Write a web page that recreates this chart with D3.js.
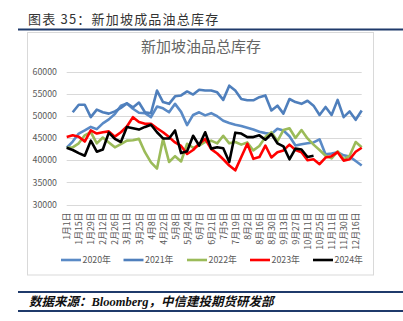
<!DOCTYPE html>
<html><head><meta charset="utf-8">
<script src="https://cdn.jsdelivr.net/npm/d3@7"></script>
<style>body{margin:0;background:#fff;} svg{display:block;}</style>
</head><body><svg id="c" width="403" height="321"></svg>
<script>
const categories = ["1月1日","1月8日","1月15日","1月22日","1月29日","2月5日","2月12日","2月19日","2月26日","3月4日",
"3月11日","3月18日","3月25日","4月1日","4月8日","4月15日","4月22日","4月29日","5月8日","5月15日",
"5月24日","5月31日","6月7日","6月14日","6月21日","6月28日","7月5日","7月12日","7月19日","7月26日",
"8月2日","8月9日","8月16日","8月23日","8月30日","9月6日","9月13日","9月20日","9月27日","10月4日",
"10月11日","10月18日","10月25日","11月1日","11月11日","11月20日","11月30日","12月7日","12月16日","12月23日"];
const seriesNames = ["2020年","2021年","2022年","2023年","2024年"];
const yTicks = [30000,35000,40000,45000,50000,55000,60000];

const s2020 = [42800,44200,46000,46700,47500,47000,48300,49200,50400,52300,
52800,51600,50700,50600,49700,52100,51700,50800,52700,50900,
47900,50200,50800,50100,50600,49900,48900,48400,48000,47700,
47300,46900,46400,46100,45900,47100,46700,45400,43300,43600,
43800,44000,44700,41300,41500,41800,41100,40800,39800,38800];
const s2021 = [null,50800,52500,52500,49700,51400,50800,50500,51000,51800,
52800,51900,53000,50800,50600,55700,53100,52700,54400,54600,
55500,54800,55900,55700,55700,55300,53600,56800,55700,53800,
53500,53500,54200,54600,51200,52300,50500,53800,53100,52700,
53400,52300,50200,52000,50200,53600,49700,51000,49100,51200];
const s2022 = [42800,42900,43800,45600,46300,43800,45100,44000,42900,43600,
44400,44500,44800,41800,39500,38100,44800,39600,40900,39700,
43700,42800,43300,44100,44400,43800,45500,43800,44100,43500,
44000,42200,43200,45200,46300,44300,46800,47200,45000,46800,
44900,43500,42300,41000,40400,42000,40200,41000,44100,42900];
const s2023 = [45200,45600,45300,44200,46700,46000,46300,46500,45300,46300,
47600,49700,48600,48200,48200,47200,46300,45200,44000,43200,
41400,42300,43700,44800,42500,41500,40200,38800,37700,40700,
43700,40300,40700,43300,40600,41800,42200,43500,42300,41800,
40000,40200,39100,40600,40900,41800,39900,40200,41900,42800];
const s2024 = [42800,42300,41600,41000,44400,41900,42400,46200,44800,44100,
47500,47200,46900,47500,48000,46300,44900,44900,46700,41600,
42000,45500,43300,46300,42600,42900,42700,39600,46200,46000,
45200,45200,45600,44600,45900,43800,43100,40200,42600,42400,
40700,41000];

const seriesData = [s2020, s2021, s2022, s2023, s2024];
const colors = ["#5A8AC6","#4F7FBC","#9BBB59","#FF0000","#000000"];

const svg = d3.select("#c");
const FONT = "'Noto Sans CJK SC','Noto Sans',sans-serif";

// header
svg.append("text").attr("x",28).attr("y",24)
  .attr("font-family",FONT).attr("font-size",13).attr("letter-spacing",1.2)
  .attr("fill","#333").text("图表 35：新加坡成品油总库存");
svg.append("line").attr("x1",18).attr("x2",403).attr("y1",29.5).attr("y2",29.5)
  .attr("stroke","#1F3A6B").attr("stroke-width",2);

// chart box
svg.append("rect").attr("x",27.5).attr("y",32.5).attr("width",346).attr("height",242.5)
  .attr("fill","#fff").attr("stroke","#D9D9D9").attr("stroke-width",1);

svg.append("text").attr("x",201).attr("y",52).attr("text-anchor","middle")
  .attr("font-family",FONT).attr("font-size",15).attr("fill","#666")
  .text("新加坡油品总库存");

const x = d3.scalePoint().domain(d3.range(categories.length)).range([66.7,361.7]);
const y = d3.scaleLinear().domain([30000,60000]).range([204.5,71.5]);

// gridlines
svg.append("g").selectAll("line").data(yTicks).join("line")
  .attr("x1",66.7).attr("x2",361.7)
  .attr("y1",d=>Math.round(y(d))+0.5).attr("y2",d=>Math.round(y(d))+0.5)
  .attr("stroke","#D9D9D9").attr("stroke-width",1);

// y axis labels
const yAxis = d3.axisLeft(y).tickValues(yTicks).tickSize(0).tickPadding(0).tickFormat(d3.format("d"));
const gy = svg.append("g").attr("transform","translate(57,0)").call(yAxis);
gy.select(".domain").remove();
gy.selectAll("text").attr("font-family",FONT).attr("font-size",8.8).attr("fill","#595959");

// x axis labels
const xAxis = d3.axisBottom(x).tickValues(d3.range(0,categories.length,2))
  .tickSize(0).tickFormat(i=>categories[i]);
const gx = svg.append("g").attr("transform","translate(0,204.5)").call(xAxis);
gx.select(".domain").remove();
gx.selectAll("text")
  .attr("font-family",FONT).attr("font-size",8.8).attr("fill","#595959")
  .attr("text-anchor","end")
  .attr("transform","rotate(-90)")
  .attr("x",-8).attr("y",0).attr("dy","0.35em");

// lines
const line = d3.line().defined(d=>d.v!=null).x(d=>x(d.i)).y(d=>y(d.v));
seriesData.forEach((s,k)=>{
  svg.append("path")
    .datum(s.map((v,i)=>({i,v})))
    .attr("d",line).attr("fill","none")
    .attr("stroke",colors[k]).attr("stroke-width",2.6)
    .attr("stroke-linejoin","round");
});

// legend
const legX = [61,123.5,187,250,313];
seriesNames.forEach((n,k)=>{
  svg.append("line").attr("x1",legX[k]).attr("x2",legX[k]+20).attr("y1",260).attr("y2",260)
    .attr("stroke",colors[k]).attr("stroke-width",2.6);
  svg.append("text").attr("x",legX[k]+21.5).attr("y",263.3)
    .attr("font-family",FONT).attr("font-size",8.8).attr("fill","#595959").text(n);
});

// source
svg.append("line").attr("x1",18).attr("x2",403).attr("y1",292).attr("y2",292)
  .attr("stroke","#1F3A6B").attr("stroke-width",2);
svg.append("line").attr("x1",18).attr("x2",403).attr("y1",311).attr("y2",311)
  .attr("stroke","#1F3A6B").attr("stroke-width",2);
const src = svg.append("text").attr("x",29).attr("y",306)
  .attr("font-size",12.5).attr("font-weight","bold").attr("font-style","italic").attr("fill","#111");
src.append("tspan").attr("font-family",FONT).text("数据来源：");
src.append("tspan").attr("font-family","'Liberation Serif',serif").text("Bloomberg");
src.append("tspan").attr("font-family",FONT).text("，中信建投期货研发部");
</script></body></html>
